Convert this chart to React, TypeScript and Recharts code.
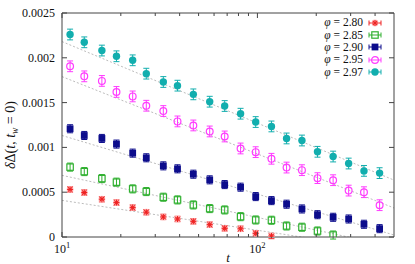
import { ComposedChart, Scatter, Line, XAxis, YAxis, ErrorBar, Legend } from 'recharts'

// waiting times t
const T = [11, 13, 16, 19, 23, 27, 33, 39, 47, 57, 68, 82, 98, 118, 141, 169, 203, 244, 293, 351, 422]

const D280 = [0.000531, 0.000496, 0.000422, 0.000384, 0.000328, 0.000277, 0.000224, 0.000201, 0.000175, 0.000138, 0.000097, 0.000092, 0.000041, 0.000011]
const D285 = [0.00078, 0.00073, 0.000652, 0.000612, 0.000537, 0.000507, 0.000444, 0.000414, 0.000358, 0.000317, 0.000302, 0.000227, 0.00019, 0.000187, 0.000123, 0.000109, 0.000067, 0.000022]
const D290 = [0.001208, 0.001133, 0.0011, 0.001037, 0.000936, 0.000884, 0.000794, 0.000761, 0.000701, 0.000638, 0.000585, 0.000556, 0.000451, 0.000406, 0.000366, 0.000313, 0.000249, 0.00022, 0.000201, 0.000142, 0.000093]
const D295 = [0.001905, 0.001793, 0.001742, 0.001619, 0.001569, 0.001465, 0.001406, 0.00129, 0.001245, 0.001178, 0.001122, 0.000988, 0.000947, 0.000873, 0.000775, 0.000746, 0.000657, 0.000634, 0.000518, 0.0005, 0.000355]
const D297 = [0.00226, 0.002173, 0.002081, 0.002017, 0.001972, 0.001823, 0.00173, 0.001689, 0.001592, 0.00151, 0.001462, 0.001376, 0.001283, 0.001234, 0.0011, 0.001077, 0.000951, 0.000898, 0.00082, 0.000738, 0.000713]

// error bar half-heights per series
const ERR = [0.00003, 0.000045, 0.000045, 0.00006, 0.00006]

// dashed fits, value at t=10 and t=500
const FIT_T = [10, 500]
const FIT280 = [0.000409, -0.000158]
const FIT285 = [0.000688, -0.00011]
const FIT290 = [0.001133, 0.000022]
const FIT295 = [0.00179, 0.000324]
const FIT297 = [0.002181, 0.000635]

const PHI = ['2.80', '2.85', '2.90', '2.95', '2.97']
const COLORS = ['#ee2222', '#30b030', '#0c0c8c', '#ff3cff', '#12aeae']
const SHAPES = ['star', 'osq', 'fsq', 'ocirc', 'fcirc']

const X_TICKS = [10, 20, 30, 40, 50, 60, 70, 80, 90, 100, 200, 300, 400]
const X_MAJOR = [10, 100]
const Y_TICKS = [0, 0.0005, 0.001, 0.0015, 0.002, 0.0025]

const VALUES = [D280, D285, D290, D295, D297]
const FITS = [FIT280, FIT285, FIT290, FIT295, FIT297]

const FONT = '"Liberation Serif", "DejaVu Serif", serif'
const AX = '#444'

function Marker({ kind, cx, cy, color }: any) {
  if (cx == null || cy == null) return null
  switch (kind) {
    case 'star':
      return (
        <g stroke={color} strokeWidth={1.1}>
          <circle cx={cx} cy={cy} r={3.4} fill="#ffbcbc" stroke="none" />
          <line x1={cx - 3} x2={cx + 3} y1={cy} y2={cy} />
          <line x1={cx} x2={cx} y1={cy - 3} y2={cy + 3} />
          <line x1={cx - 2.2} x2={cx + 2.2} y1={cy - 2.2} y2={cy + 2.2} />
          <line x1={cx - 2.2} x2={cx + 2.2} y1={cy + 2.2} y2={cy - 2.2} />
        </g>
      )
    case 'osq':
      return <rect x={cx - 3.2} y={cy - 3.2} width={6.4} height={6.4} fill="none" stroke={color} strokeWidth={1.2} />
    case 'fsq':
      return <rect x={cx - 3.4} y={cy - 3.4} width={6.8} height={6.8} fill={color} />
    case 'ocirc':
      return <circle cx={cx} cy={cy} r={3.4} fill="none" stroke={color} strokeWidth={1.2} />
    default:
      return <circle cx={cx} cy={cy} r={3.7} fill={color} />
  }
}

function BottomTick({ x, y, payload }: any) {
  const v = payload.value
  const major = X_MAJOR.includes(v)
  return (
    <g>
      <line x1={x} x2={x} y1={y} y2={y - (major ? 5 : 3)} stroke={AX} />
      {major && (
        <text x={x} y={y + 16} textAnchor="middle" fontFamily={FONT} fontSize={12} fill="#111">
          10<tspan dy={-5} fontSize={8.5}>{Math.round(Math.log10(v))}</tspan>
        </text>
      )}
    </g>
  )
}

function TopTick({ x, y, payload }: any) {
  const major = X_MAJOR.includes(payload.value)
  return <line x1={x} x2={x} y1={y} y2={y + (major ? 5 : 3)} stroke={AX} />
}

function LeftTick({ x, y, payload }: any) {
  return (
    <g>
      <line x1={x} x2={x + 5} y1={y} y2={y} stroke={AX} />
      <text x={x - 7} y={y + 4} textAnchor="end" fontFamily={FONT} fontSize={12} fill="#111">
        {String(payload.value)}
      </text>
    </g>
  )
}

function RightTick({ x, y }: any) {
  return <line x1={x} x2={x - 5} y1={y} y2={y} stroke={AX} />
}

function YLabel({ viewBox }: any) {
  const cx = 15
  const cy = viewBox.y + viewBox.height / 2 + 10
  return (
    <text x={cx} y={cy} transform={`rotate(-90, ${cx}, ${cy})`} textAnchor="middle" fontFamily={FONT} fontSize={14} fill="#111">
      <tspan fontStyle="italic">δ</tspan>Δ(<tspan fontStyle="italic">t</tspan>, <tspan fontStyle="italic">t</tspan>
      <tspan fontStyle="italic" fontSize={9.5} dy={3}>w</tspan>
      <tspan dy={-3}> = 0)</tspan>
    </text>
  )
}

function XLabel({ viewBox }: any) {
  return (
    <text x={viewBox.x + viewBox.width / 2} y={viewBox.y + 25} textAnchor="middle" fontFamily={FONT} fontStyle="italic" fontSize={13} fill="#111">
      t
    </text>
  )
}

function LegendBox() {
  return (
    <div style={{ fontFamily: FONT, fontSize: 11.5, color: '#111', width: 92 }}>
      {PHI.map((p, i) => (
        <div key={p} style={{ height: 12.4, display: 'flex', alignItems: 'center', justifyContent: 'flex-end' }}>
          <span style={{ whiteSpace: 'nowrap', lineHeight: '11px' }}>
            <i>φ</i>&nbsp;=&nbsp;{p}
          </span>
          <svg width={14} height={12} style={{ marginLeft: 5 }}>
            <line x1={1} x2={13} y1={6} y2={6} stroke={COLORS[i]} />
            <line x1={1} x2={1} y1={3.5} y2={8.5} stroke={COLORS[i]} />
            <line x1={13} x2={13} y1={3.5} y2={8.5} stroke={COLORS[i]} />
            <Marker kind={SHAPES[i]} cx={7} cy={6} color={COLORS[i]} />
          </svg>
        </div>
      ))}
    </div>
  )
}

export default function App() {
  return (
    <div style={{ position: 'absolute', left: 0, top: 0, background: '#fff' }}>
      <ComposedChart width={415} height={264} margin={{ top: 0, right: 0, bottom: 0, left: 0 }}>
        <XAxis
          xAxisId="b" orientation="bottom" type="number" dataKey="t" scale="log" domain={[10, 500]}
          allowDataOverflow ticks={X_TICKS} interval={0} height={27} tickSize={0} tickMargin={0}
          tickLine={false} axisLine={{ stroke: AX }} tick={<BottomTick />} label={<XLabel />}
        />
        <XAxis
          xAxisId="top" orientation="top" type="number" dataKey="t" scale="log" domain={[10, 500]}
          allowDataOverflow ticks={X_TICKS} interval={0} height={13} tickSize={0} tickMargin={0}
          tickLine={false} axisLine={{ stroke: AX }} tick={<TopTick />}
        />
        <YAxis
          yAxisId="l" orientation="left" type="number" dataKey="v" domain={[0, 0.0025]} allowDataOverflow
          ticks={Y_TICKS} interval={0} width={62} tickSize={0} tickMargin={0} tickLine={false}
          axisLine={{ stroke: AX }} tick={<LeftTick />} label={<YLabel />}
        />
        <YAxis
          yAxisId="r" orientation="right" type="number" dataKey="v" domain={[0, 0.0025]} allowDataOverflow
          ticks={Y_TICKS} interval={0} width={21} tickSize={0} tickMargin={0} tickLine={false}
          axisLine={{ stroke: AX }} tick={<RightTick />}
        />
        {FITS.map((f, i) => (
          <Line
            key={'fit' + i} xAxisId="b" yAxisId="l" data={FIT_T.map((t, k) => ({ t, v: f[k] }))}
            dataKey="v" stroke="#b4b4b4" strokeWidth={0.9} strokeDasharray="2 2" dot={false}
            activeDot={false} legendType="none" isAnimationActive={false}
          />
        ))}
        {VALUES.map((vals, i) => (
          <Scatter
            key={PHI[i]} name={`φ = ${PHI[i]}`} xAxisId="b" yAxisId="l"
            data={vals.map((v, k) => ({ t: T[k], v, e: ERR[i] }))} dataKey="v" fill={COLORS[i]}
            shape={(p: any) => <Marker kind={SHAPES[i]} cx={p.cx} cy={p.cy} color={COLORS[i]} />}
            isAnimationActive={false}
          >
            <ErrorBar dataKey="e" direction="y" width={3} stroke={COLORS[i]} strokeWidth={1} isAnimationActive={false} />
          </Scatter>
        ))}
        <Legend
          layout="vertical" align="center" verticalAlign="middle" content={<LegendBox />}
          wrapperStyle={{ position: 'absolute', left: 290, top: 16.5, width: 92 }}
        />
      </ComposedChart>
    </div>
  )
}
